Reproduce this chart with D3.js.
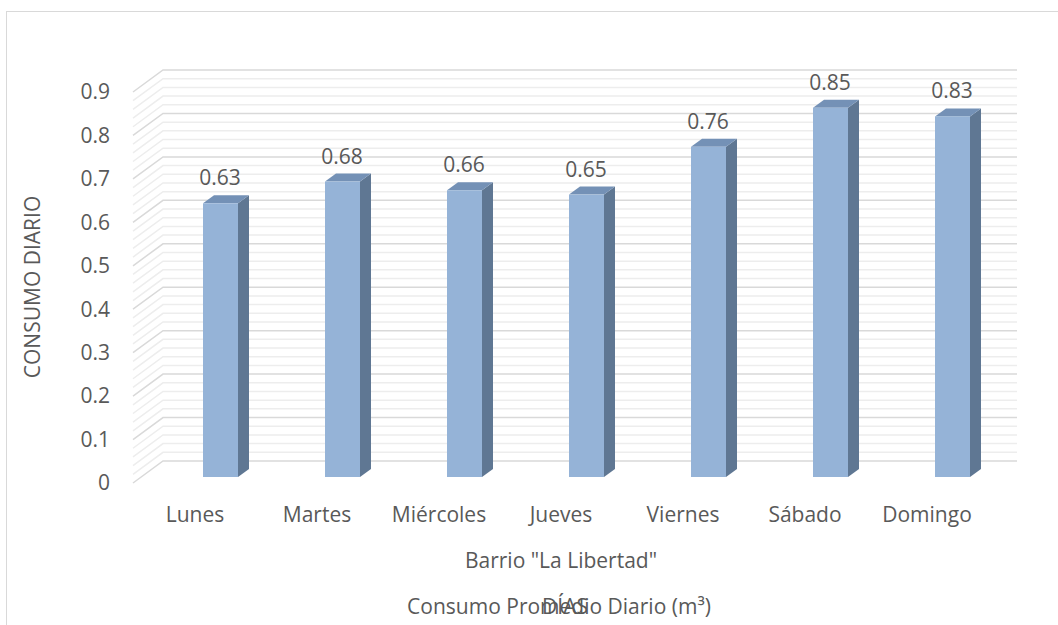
<!DOCTYPE html>
<html>
<head>
    <meta charset="utf-8" />
    <title>Consumo Diario</title>
    <script src="https://d3js.org/d3.v7.min.js"></script>
    <style>
        body { margin: 0; background: #fff; }
        text { font-family: "Open Sans", sans-serif; fill: #595959; }
    </style>
</head>
<body>
    <svg id="chart" width="1058" height="625"></svg>

    <script>
        // data
        var days = ["Lunes", "Martes", "Miércoles", "Jueves", "Viernes", "Sábado", "Domingo"];
        var consumo = [0.63, 0.68, 0.66, 0.65, 0.76, 0.85, 0.83];
        var yTicks = [0, 0.1, 0.2, 0.3, 0.4, 0.5, 0.6, 0.7, 0.8, 0.9];

        var svg = d3.select("#chart");
        var fs = 21;

        // frame
        svg.append("rect")
            .attr("x", 6.5).attr("y", 11.5)
            .attr("width", 1100).attr("height", 700)
            .attr("fill", "none")
            .attr("stroke", "#d9d9d9");

        // back wall scales
        var yBack = d3.scaleLinear().domain([0, 0.9]).range([461, 70]);
        var xBack = d3.scaleBand().domain(days).range([163, 1017]);
        // depth shift from back wall to front edge
        var dx = -30, dy = 22;

        // gridlines (minor every 0.02, major every 0.1)
        var grid = d3.range(0, 46).map(function (i) { return +(i * 0.02).toFixed(2); });
        var gridG = svg.append("g");
        grid.forEach(function (v) {
            var major = Math.abs(v * 10 - Math.round(v * 10)) < 1e-6;
            var col = major ? "#d9d9d9" : "#ededed";
            var y = yBack(v);
            gridG.append("path")
                .attr("d", "M" + (163 + dx) + "," + (y + dy) + "L163," + y + "L1017," + y)
                .attr("fill", "none")
                .attr("stroke", col)
                .attr("stroke-width", 1.5);
        });

        // y axis labels on the front edge
        svg.append("g").selectAll("text")
            .data(yTicks)
            .enter().append("text")
            .attr("x", 110)
            .attr("y", function (d) { return yBack(d) + dy; })
            .attr("dy", "0.35em")
            .attr("text-anchor", "end")
            .attr("font-size", fs)
            .text(function (d) { return d; });

        // bars (front face sits a bit inside the floor)
        var barW = 35, depthX = 11, depthY = 8;
        var barDy = 16;
        var yFront = function (v) { return yBack(v) + barDy; };
        var barLeft = function (d) { return xBack(d) + 40; };

        var bars = svg.append("g").selectAll("g")
            .data(days)
            .enter().append("g");

        // side face
        bars.append("path")
            .attr("fill", "#5f7793")
            .attr("d", function (d, i) {
                var x = barLeft(d) + barW, yt = yFront(consumo[i]), yb = yFront(0);
                return "M" + x + "," + yb + "L" + x + "," + yt +
                    "L" + (x + depthX) + "," + (yt - depthY) +
                    "L" + (x + depthX) + "," + (yb - depthY) + "Z";
            });
        // top face
        bars.append("path")
            .attr("fill", "#7491b6")
            .attr("d", function (d, i) {
                var x = barLeft(d), yt = yFront(consumo[i]);
                return "M" + x + "," + yt + "L" + (x + barW) + "," + yt +
                    "L" + (x + barW + depthX) + "," + (yt - depthY) +
                    "L" + (x + depthX) + "," + (yt - depthY) + "Z";
            });
        // front face
        bars.append("rect")
            .attr("fill", "#95b3d7")
            .attr("x", function (d) { return barLeft(d); })
            .attr("y", function (d, i) { return yFront(consumo[i]); })
            .attr("width", barW)
            .attr("height", function (d, i) { return yFront(0) - yFront(consumo[i]); });

        // value labels
        bars.append("text")
            .attr("x", function (d) { return barLeft(d) + 17; })
            .attr("y", function (d, i) { return yFront(consumo[i]) - depthY - 10; })
            .attr("text-anchor", "middle")
            .attr("font-size", fs)
            .text(function (d, i) { return consumo[i]; });

        // category labels
        svg.append("g").selectAll("text")
            .data(days)
            .enter().append("text")
            .attr("x", function (d) { return xBack(d) + xBack.bandwidth() / 2 + dx + 1; })
            .attr("y", 522)
            .attr("text-anchor", "middle")
            .attr("font-size", fs)
            .text(function (d) { return d; });

        // titles
        svg.append("text")
            .attr("transform", "translate(40,287) rotate(-90)")
            .attr("text-anchor", "middle")
            .attr("font-size", fs)
            .text("CONSUMO DIARIO");

        svg.append("text")
            .attr("x", 561).attr("y", 568)
            .attr("text-anchor", "middle")
            .attr("font-size", fs)
            .text("Barrio \"La Libertad\"");

        svg.append("text")
            .attr("x", 559).attr("y", 614)
            .attr("text-anchor", "middle")
            .attr("font-size", fs)
            .text("Consumo Promedio Diario (m³)");

        svg.append("text")
            .attr("x", 565).attr("y", 614)
            .attr("text-anchor", "middle")
            .attr("font-size", fs)
            .text("DÍAS");
    </script>
</body>
</html>
